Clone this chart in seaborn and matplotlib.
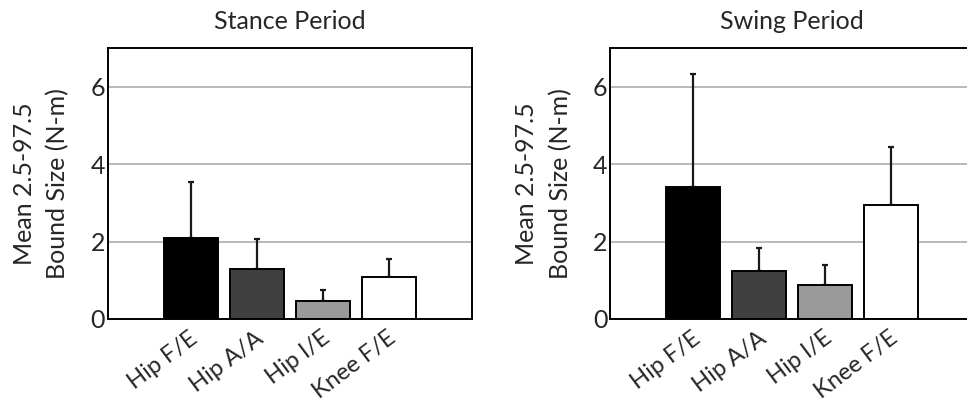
import matplotlib
matplotlib.use("Agg")
import matplotlib.pyplot as plt
import matplotlib.transforms as mtransforms
import seaborn as sns
import pandas as pd
import numpy as np

categories = ["Hip F/E", "Hip A/A", "Hip I/E", "Knee F/E"]
stance_mean = [2.10, 1.30, 0.47, 1.09]
stance_upper = [3.54, 2.07, 0.75, 1.56]
swing_mean = [3.41, 1.24, 0.88, 2.95]
swing_upper = [6.33, 1.83, 1.40, 4.43]
bar_colors = ["#000000", "#404040", "#9a9a9a", "#ffffff"]
titles = ["Stance Period", "Swing Period"]
ylabel = "Mean 2.5-97.5\nBound Size (N-m)"
yticks = [0, 2, 4, 6]

sns.set_theme(style="white")
plt.rcParams["font.family"] = ["Lato", "DejaVu Sans"]

fig = plt.figure(figsize=(9.67, 4.08), dpi=100)
ax1 = fig.add_axes([108/967, 89/408, 364/967, 271/408])
ax2 = fig.add_axes([610.3/967, 89/408, 364/967, 271/408])

shift = mtransforms.ScaledTranslation(-2/100, 0, fig.dpi_scale_trans)

for ax, means, uppers, title in [(ax1, stance_mean, stance_upper, titles[0]),
                                  (ax2, swing_mean, swing_upper, titles[1])]:
    df = pd.DataFrame({"joint": categories, "value": means})
    ax.set_axisbelow(True)
    for yv in yticks[1:]:
        ax.axhline(yv, color="#a6a6a6", lw=1.1, zorder=0)
    sns.barplot(data=df, x="joint", y="value", hue="joint", palette=bar_colors,
                order=categories, hue_order=categories, legend=False,
                errorbar=None, width=0.82, edgecolor="black", linewidth=1.4,
                ax=ax, zorder=2)
    x = np.arange(len(categories))
    m = np.array(means)
    u = np.array(uppers)
    ax.errorbar(x, m, yerr=[np.zeros_like(m), u - m], fmt="none",
                ecolor="#1a1a1a", elinewidth=1.6, capsize=2.5, capthick=1.6, zorder=1)
    ax.set_ylim(0, 7)
    ax.set_xlim(-1.26, 3 + 1.26)
    ax.set_yticks(yticks)
    ax.set_yticklabels([str(t) for t in yticks], fontsize=18)
    ax.tick_params(axis="y", length=0, pad=2)
    ax.tick_params(axis="x", length=0, pad=6)
    ax.set_xticks(x)
    ax.set_xticklabels(categories, rotation=37, ha="right", rotation_mode="anchor",
                       fontsize=17)
    for lab in ax.get_xticklabels():
        lab.set_transform(lab.get_transform() + shift)
    ax.set_xlabel("")
    ax.set_ylabel(ylabel, fontsize=18, labelpad=15, linespacing=1.55)
    ax.set_title(title, fontsize=18, pad=14)
    for s in ax.spines.values():
        s.set_visible(True)
        s.set_color("black")
        s.set_linewidth(1.4)
    ax.grid(False)

fig.savefig("out.png", dpi=100, facecolor="white")
